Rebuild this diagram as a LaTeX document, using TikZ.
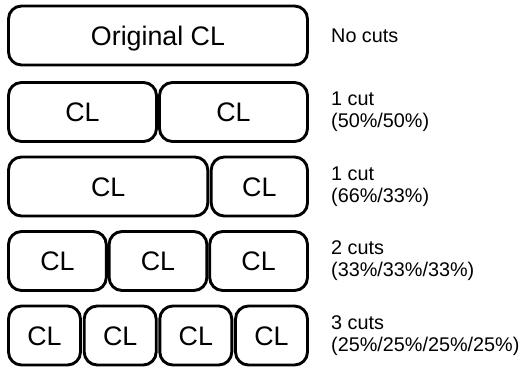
\documentclass[tikz,border=0pt]{standalone}
\usepackage{fontspec}
\setmainfont{Liberation Sans}
\begin{document}
\begin{tikzpicture}[x=1pt,y=-1pt,
  clbox/.style={draw=black, line width=2.9pt, rounded corners=13pt, fill=white,
    inner sep=0pt, minimum height=59pt, font=\fontsize{26.8}{30}\selectfont,
    text height=19.2pt, text depth=0pt},
  cutlabel/.style={anchor=west, inner sep=0pt, align=left,
    font=\fontsize{19.8}{22}\selectfont}]
\useasboundingbox (0,0) rectangle (521,371);
% row 1
\node[clbox, minimum width=299pt] (o) at (158,35.5) {Original CL};
% row 2
\node[clbox, minimum width=148pt] (a1) at (82.5,112) {CL};
\node[clbox, minimum width=148pt] (a2) at (233.5,112) {CL};
% row 3
\node[clbox, minimum width=199.3pt] (b1) at (108.15,186.5) {CL};
\node[clbox, minimum width=96.3pt] (b2) at (259.35,186.5) {CL};
% row 4
\node[clbox, minimum width=97.8pt] (c1) at (57.4,261) {CL};
\node[clbox, minimum width=97.8pt] (c2) at (158,261) {CL};
\node[clbox, minimum width=97.8pt] (c3) at (258.6,261) {CL};
% row 5
\node[clbox, minimum width=72pt] (d1) at (44.5,335.5) {CL};
\node[clbox, minimum width=72pt] (d2) at (120.2,335.5) {CL};
\node[clbox, minimum width=72pt] (d3) at (195.8,335.5) {CL};
\node[clbox, minimum width=72pt] (d4) at (271.5,335.5) {CL};
% labels
\node[cutlabel] (l0) at (331,35.5) {No cuts};
\node[cutlabel] (l1) at (331,112) {1 cut\\(50\%/50\%)};
\node[cutlabel] (l2) at (331,186.5) {1 cut\\(66\%/33\%)};
\node[cutlabel] (l3) at (331,261) {2 cuts\\(33\%/33\%/33\%)};
\node[cutlabel] (l4) at (331,335.5) {3 cuts\\(25\%/25\%/25\%/25\%)};
\end{tikzpicture}
\end{document}
